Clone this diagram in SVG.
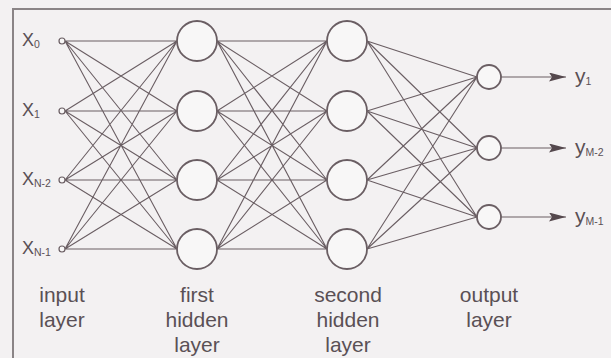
<svg xmlns="http://www.w3.org/2000/svg" width="611" height="358" viewBox="0 0 611 358">
  <defs>
    <marker id="arrow" viewBox="0 0 17 9" refX="17" refY="4.5" markerWidth="17" markerHeight="9" markerUnits="userSpaceOnUse" orient="auto">
      <path d="M0,0 L17,4.5 L0,9 L3,4.5 Z" fill="#54484d"/>
    </marker>
  </defs>
  <style>
    .bg { fill: #f3f1f2; }
    .frame { fill: none; stroke: #8a8486; stroke-width: 2; }
    .edge { stroke: #6a5e63; stroke-width: 1.1; fill: none; }
    .out { stroke: #6a5e63; stroke-width: 1.2; fill: none; marker-end: url(#arrow); }
    .inp { fill: #f8f7f7; stroke: #6a5e63; stroke-width: 1.2; }
    .neuron { fill: #f8f7f7; stroke: #6a5e63; stroke-width: 1.8; }
    .lbl { font-family: "Liberation Sans", Arial, sans-serif; fill: #5a5055; }
    .sym { font-size: 18px; }
    .ysym { font-size: 21px; }
    .sub { font-size: 10.5px; }
    .cap { font-size: 21px; text-anchor: middle; }
  </style>

  <rect class="bg" x="0" y="0" width="611" height="358"/>
  <path class="frame" d="M13,358 L13,9 L611,9"/>

  <!-- weighted connections between layers -->
  <g id="connectors">
    <!-- input -> first hidden -->
    <path class="edge" d="M65,41 L177,41 M65,41 L177,111 M65,41 L177,180 M65,41 L177,249
                          M65,111 L177,41 M65,111 L177,111 M65,111 L177,180 M65,111 L177,249
                          M65,180 L177,41 M65,180 L177,111 M65,180 L177,180 M65,180 L177,249
                          M65,249 L177,41 M65,249 L177,111 M65,249 L177,180 M65,249 L177,249"/>
    <!-- first hidden -> second hidden -->
    <path class="edge" d="M217,41 L327,41 M217,41 L327,111 M217,41 L327,180 M217,41 L327,249
                          M217,111 L327,41 M217,111 L327,111 M217,111 L327,180 M217,111 L327,249
                          M217,180 L327,41 M217,180 L327,111 M217,180 L327,180 M217,180 L327,249
                          M217,249 L327,41 M217,249 L327,111 M217,249 L327,180 M217,249 L327,249"/>
    <!-- second hidden -> output -->
    <path class="edge" d="M367,41 L477,77 M367,41 L477,148 M367,41 L477,217
                          M367,111 L477,77 M367,111 L477,148 M367,111 L477,217
                          M367,180 L477,77 M367,180 L477,148 M367,180 L477,217
                          M367,249 L477,77 M367,249 L477,148 M367,249 L477,217"/>
    <!-- outputs -->
    <line class="out" x1="501" y1="77" x2="566" y2="77"/>
    <line class="out" x1="501" y1="148" x2="566" y2="148"/>
    <line class="out" x1="501" y1="217" x2="566" y2="217"/>
  </g>

  <!-- input layer -->
  <g id="in0"><circle class="inp" cx="62" cy="41" r="3"/>
    <text class="lbl sym" x="22" y="46">X<tspan class="sub" dy="2">0</tspan></text></g>
  <g id="in1"><circle class="inp" cx="62" cy="111" r="3"/>
    <text class="lbl sym" x="22" y="116">X<tspan class="sub" dy="2">1</tspan></text></g>
  <g id="inN2"><circle class="inp" cx="62" cy="180" r="3"/>
    <text class="lbl sym" x="22" y="185">X<tspan class="sub" dy="2">N-2</tspan></text></g>
  <g id="inN1"><circle class="inp" cx="62" cy="249" r="3"/>
    <text class="lbl sym" x="22" y="254">X<tspan class="sub" dy="2">N-1</tspan></text></g>

  <!-- first hidden layer -->
  <g id="h1a"><circle class="neuron" cx="197" cy="41" r="20"/></g>
  <g id="h1b"><circle class="neuron" cx="197" cy="111" r="20"/></g>
  <g id="h1c"><circle class="neuron" cx="197" cy="180" r="20"/></g>
  <g id="h1d"><circle class="neuron" cx="197" cy="249" r="20"/></g>

  <!-- second hidden layer -->
  <g id="h2a"><circle class="neuron" cx="347" cy="41" r="20"/></g>
  <g id="h2b"><circle class="neuron" cx="347" cy="111" r="20"/></g>
  <g id="h2c"><circle class="neuron" cx="347" cy="180" r="20"/></g>
  <g id="h2d"><circle class="neuron" cx="347" cy="249" r="20"/></g>

  <!-- output layer -->
  <g id="o1"><circle class="neuron" cx="489" cy="77" r="12"/>
    <text class="lbl ysym" x="575" y="83">y<tspan class="sub" dy="2">1</tspan></text></g>
  <g id="oM2"><circle class="neuron" cx="489" cy="148" r="12"/>
    <text class="lbl ysym" x="575" y="154">y<tspan class="sub" dy="2">M-2</tspan></text></g>
  <g id="oM1"><circle class="neuron" cx="489" cy="217" r="12"/>
    <text class="lbl ysym" x="575" y="223">y<tspan class="sub" dy="2">M-1</tspan></text></g>

  <!-- layer captions -->
  <g id="cap-input"><text class="lbl cap" x="62" y="302">input</text><text class="lbl cap" x="62" y="327">layer</text></g>
  <g id="cap-first"><text class="lbl cap" x="197" y="302">first</text><text class="lbl cap" x="197" y="327">hidden</text><text class="lbl cap" x="197" y="352">layer</text></g>
  <g id="cap-second"><text class="lbl cap" x="348" y="302">second</text><text class="lbl cap" x="348" y="327">hidden</text><text class="lbl cap" x="348" y="352">layer</text></g>
  <g id="cap-output"><text class="lbl cap" x="489" y="302">output</text><text class="lbl cap" x="489" y="327">layer</text></g>
</svg>
